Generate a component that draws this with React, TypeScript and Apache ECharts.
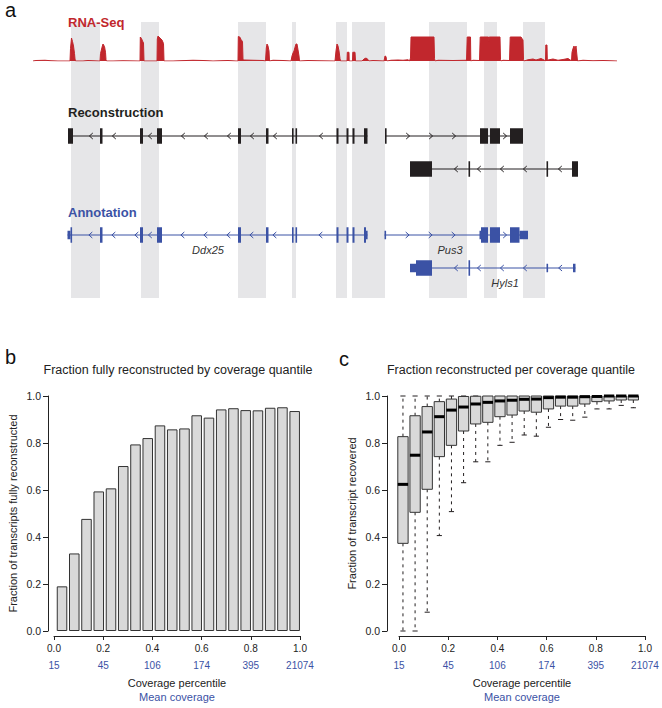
import React, { useEffect, useRef } from 'react';
import * as echarts from 'echarts';

const FONT = '"Liberation Sans", Arial, Helvetica, sans-serif';
const RED = '#c1272d';
const BLUE = '#3b52a5';
const BLACK = '#231f20';
const BAND = '#e6e6e8';
const AXIS = '#222222';

// ---------- Panel a (genomic positions in bp, relative to region start) ----------
const regionStart = 0;
const regionEnd = 58400;

const highlightBands: [number, number][] = [
  [3800, 6700], [10800, 12600], [20500, 23300], [25900, 26300], [30300, 31400],
  [31900, 35200], [39600, 43400], [45100, 46400], [49000, 51200],
];

const rnaSeqCoverage: [number, number][] = [
  [0, 0], [300, 2], [1200, 3], [1800, 1], [2500, 0],
  [3700, 0], [3750, 50], [3850, 92], [3950, 78], [4050, 60], [4150, 30], [4200, 8], [4250, 0],
  [5000, 0], [5500, 2], [6000, 1], [6600, 0],
  [6700, 0], [6750, 30], [6900, 55], [7000, 68], [7150, 58], [7250, 35], [7300, 5], [7350, 0],
  [8000, 0], [9000, 1], [10600, 0],
  [10700, 0], [10730, 96], [10850, 90], [10950, 80], [11050, 72], [11100, 0],
  [12400, 0], [12430, 88], [12500, 100], [12700, 92], [12900, 84], [13050, 70], [13100, 0],
  [14000, 0], [16000, 3], [17000, 2], [18000, 0], [19500, 2], [20300, 0],
  [20500, 0], [20530, 98], [20700, 95], [20800, 86], [20950, 78], [21000, 5], [21100, 4], [22000, 3], [23000, 2], [23250, 0],
  [23300, 0], [23330, 52], [23400, 68], [23500, 60], [23600, 40], [23650, 0],
  [24000, 3], [25000, 2], [25800, 0],
  [25850, 0], [25900, 20], [26000, 32], [26100, 40], [26200, 55], [26300, 68], [26400, 68], [26500, 45], [26600, 20], [26650, 0],
  [27500, 2], [28500, 1], [30200, 0],
  [30250, 0], [30300, 40], [30400, 68], [30500, 60], [30600, 40], [30700, 10], [30750, 0],
  [31400, 0], [31430, 35], [31600, 35], [31620, 0],
  [31950, 0], [31980, 35], [32200, 35], [32250, 0],
  [32900, 0], [33100, 8], [33300, 12], [33500, 6], [33600, 0],
  [34000, 2], [35100, 0],
  [35150, 0], [35200, 20], [35300, 18], [35350, 5], [35400, 0],
  [35800, 3], [36500, 4], [37000, 3], [37500, 5], [37650, 0],
  [37700, 0], [37750, 12], [37800, 96], [40100, 96], [40150, 10], [40200, 0],
  [40500, 3], [42000, 2], [43300, 3], [43350, 0],
  [43400, 0], [43420, 96], [43750, 96], [43780, 0],
  [44000, 3], [44600, 2], [44650, 0],
  [44700, 0], [44720, 96], [45550, 96], [45580, 78], [45620, 96], [46700, 96], [46750, 6], [46800, 0],
  [47000, 3], [47600, 2], [47650, 0],
  [47700, 0], [47720, 96], [48800, 96], [48900, 90], [49000, 84], [49050, 6], [49100, 0],
  [49500, 5], [50000, 8], [50300, 4], [50800, 10], [51100, 4], [51250, 0],
  [51280, 64], [51400, 64], [51430, 5], [51500, 4], [52000, 8], [52500, 3], [53000, 6], [53500, 10], [53800, 2], [53850, 0],
  [53900, 35], [54000, 50], [54100, 60], [54200, 45], [54300, 60], [54400, 20], [54450, 0],
  [55000, 3], [56000, 1], [57000, 2], [58400, 0],
];

type Exon = [number, number, 'cds' | 'utr'];
type Transcript = {
  name: string;
  set: 'reconstruction' | 'annotation';
  row: number;
  strand: '+' | '-';
  exons: Exon[];
  labelPos?: number;
};

const ddx25Core: Exon[] = [
  [6700, 6950, 'cds'], [10700, 11000, 'cds'], [12400, 12900, 'cds'], [20500, 20800, 'cds'],
  [23300, 23550, 'cds'], [25900, 26050, 'cds'], [26250, 26400, 'cds'], [30350, 30550, 'cds'],
  [31350, 31550, 'cds'], [31950, 32150, 'cds'],
];

const transcripts: Transcript[] = [
  { name: 'Ddx25', set: 'reconstruction', row: 1, strand: '-',
    exons: [[3500, 4000, 'cds'], ...ddx25Core, [33100, 33450, 'cds']] },
  { name: 'Pus3', set: 'reconstruction', row: 1, strand: '+',
    exons: [[35200, 35350, 'cds'], [44700, 45500, 'cds'], [45700, 46700, 'cds'], [47700, 49000, 'cds']] },
  { name: 'Hyls1', set: 'reconstruction', row: 2, strand: '-',
    exons: [[37700, 39900, 'cds'], [43550, 43700, 'cds'], [51350, 51500, 'cds'], [53900, 54500, 'cds']] },
  { name: 'Ddx25', set: 'annotation', row: 4, strand: '-', labelPos: 17500,
    exons: [[3450, 3750, 'utr'], [3750, 3900, 'cds'], ...ddx25Core, [33100, 33300, 'cds'], [33300, 33450, 'utr']] },
  { name: 'Pus3', set: 'annotation', row: 4, strand: '+', labelPos: 41700,
    exons: [[35150, 35300, 'utr'], [44650, 44800, 'utr'], [44800, 45500, 'cds'], [45700, 46700, 'cds'],
      [47700, 48650, 'cds'], [48650, 49500, 'utr']] },
  { name: 'Hyls1', set: 'annotation', row: 5, strand: '-', labelPos: 47200,
    exons: [[37700, 38300, 'utr'], [38300, 39900, 'cds'], [43550, 43650, 'cds'], [51350, 51450, 'utr'], [54000, 54250, 'utr']] },
];

// ---------- Panel b ----------
const quantileBins = ['Q1', 'Q2', 'Q3', 'Q4', 'Q5', 'Q6', 'Q7', 'Q8', 'Q9', 'Q10',
  'Q11', 'Q12', 'Q13', 'Q14', 'Q15', 'Q16', 'Q17', 'Q18', 'Q19', 'Q20'];
const fractionFullyReconstructed = [0.19, 0.33, 0.477, 0.594, 0.607, 0.702, 0.794, 0.821, 0.875, 0.858,
  0.862, 0.918, 0.908, 0.943, 0.948, 0.940, 0.939, 0.950, 0.952, 0.936];
const percentileTicks = [0, 0.2, 0.4, 0.6, 0.8, 1.0];
const meanCoverageTicks = ['15', '45', '106', '174', '395', '21074'];

// ---------- Panel c ----------
const whiskerLow = [0.0, 0.0, 0.08, 0.406, 0.508, 0.631, 0.72, 0.72, 0.79, 0.803,
  0.834, 0.829, 0.867, 0.9, 0.897, 0.91, 0.945, 0.945, 0.96, 0.95];
const quartile1 = [0.373, 0.505, 0.603, 0.742, 0.79, 0.851, 0.881, 0.888, 0.912, 0.919,
  0.936, 0.931, 0.945, 0.957, 0.957, 0.966, 0.976, 0.979, 0.983, 0.983];
const medianRecovered = [0.624, 0.748, 0.847, 0.912, 0.94, 0.953, 0.966, 0.973, 0.979, 0.982,
  0.986, 0.987, 0.993, 0.995, 0.995, 0.997, 0.998, 1.0, 1.0, 1.0];
const quartile3 = [0.827, 0.916, 0.955, 0.976, 0.987, 0.998, 0.999, 1.0, 1.0, 1.0,
  1.0, 1.0, 1.0, 1.0, 1.0, 1.0, 1.0, 1.0, 1.0, 1.0];
const whiskerHigh = [1.0, 1.0, 1.0, 1.0, 1.0, 1.0, 1.0, 1.0, 1.0, 1.0,
  1.0, 1.0, 1.0, 1.0, 1.0, 1.0, 1.0, 1.0, 1.0, 1.0];

function textEl(text: string, x: number, y: number, font: string, fill: string, align = 'left') {
  return {
    type: 'text', x, y, z: 100, zlevel: 0, silent: true,
    style: { text, font, fill, textAlign: align, textVerticalAlign: 'middle', align, verticalAlign: 'middle' },
  };
}

function percentAxis(gridIndex: number, offset: number) {
  return {
    gridIndex, type: 'value', min: 0, max: 1, interval: 0.2, offset,
    axisLine: { show: true, onZero: false, lineStyle: { color: AXIS, width: 1 } },
    axisTick: { show: true, length: 4, lineStyle: { color: AXIS, width: 1 } },
    splitLine: { show: false },
    axisLabel: {
      margin: 4,
      formatter: (v: number) => `{p|${v.toFixed(1)}}\n{m|${meanCoverageTicks[percentileTicks.findIndex((t) => Math.abs(t - v) < 1e-6)] ?? ''}}`,
      rich: {
        p: { fontSize: 10, color: AXIS, lineHeight: 17, fontFamily: FONT },
        m: { fontSize: 10, color: BLUE, lineHeight: 17, fontFamily: FONT },
      },
    },
    name: '{t|Coverage percentile}\n{s|Mean coverage}',
    nameLocation: 'middle', nameGap: 40,
    nameTextStyle: {
      rich: {
        t: { fontSize: 11, color: AXIS, lineHeight: 14, fontFamily: FONT },
        s: { fontSize: 11, color: BLUE, lineHeight: 14, fontFamily: FONT },
      },
    },
  };
}

function fractionAxis(gridIndex: number, offset: number, name: string) {
  return {
    gridIndex, type: 'value', min: 0, max: 1, interval: 0.2, offset,
    axisLine: { show: true, onZero: false, lineStyle: { color: AXIS, width: 1 } },
    axisTick: { show: true, length: 5, lineStyle: { color: AXIS, width: 1 } },
    splitLine: { show: false },
    axisLabel: { margin: 7, fontSize: 10.5, color: AXIS, fontFamily: FONT, formatter: (v: number) => v.toFixed(1) },
    name, nameLocation: 'middle', nameGap: 30,
    nameTextStyle: { fontSize: 11, color: AXIS, fontFamily: FONT },
  };
}

export default function App() {
  const ref = useRef<HTMLDivElement>(null);

  useEffect(() => {
    if (!ref.current) return;
    const chart = echarts.init(ref.current, null, { renderer: 'svg' });

    const renderBand = (params: any, api: any) => {
      const a = api.coord([api.value(0), 0])[0];
      const b = api.coord([api.value(1), 0])[0];
      const cs = params.coordSys;
      return { type: 'rect', shape: { x: a, y: cs.y, width: b - a, height: cs.height }, style: { fill: BAND } };
    };

    const renderTranscript = (params: any, api: any) => {
      const t = transcripts[api.value(3)];
      const color = t.set === 'reconstruction' ? BLACK : BLUE;
      const xs = (v: number) => api.coord([v, t.row])[0];
      const yc = api.coord([t.exons[0][0], t.row])[1];
      const ex = t.exons.map((e) => [xs(e[0]), xs(e[1]), e[2]] as [number, number, string]);
      const x0 = ex[0][0];
      const x1 = ex[ex.length - 1][1];
      const children: any[] = [];
      children.push({ type: 'line', shape: { x1: x0, y1: yc, x2: x1, y2: yc }, style: { stroke: color, lineWidth: 1 } });
      const near = (x: number) => ex.some(([a, b]) => x > a - 3.5 && x < b + 3.5);
      const d = t.strand === '-' ? 1 : -1;
      const chev = (x: number) => ({
        type: 'polyline',
        shape: { points: [[x + 1.8 * d, yc - 3], [x - 1.6 * d, yc], [x + 1.8 * d, yc + 3]] },
        style: { stroke: color, lineWidth: 1, fill: null },
      });
      const spacing = 23;
      const chevX: number[] = [];
      for (let x = x0 + spacing; x < x1 - 3; x += spacing) {
        if (!near(x)) chevX.push(x);
      }
      for (let i = 0; i < ex.length - 1; i++) {
        const a = ex[i][1];
        const b = ex[i + 1][0];
        if (b - a >= 10 && !chevX.some((x) => x > a && x < b)) chevX.push((a + b) / 2);
      }
      chevX.forEach((x) => children.push(chev(x)));
      ex.forEach(([a, b, kind]) => {
        const h = kind === 'cds' ? 15.5 : 8.5;
        const w = Math.max(b - a, 1.6);
        children.push({ type: 'rect', shape: { x: a, y: yc - h / 2, width: w, height: h }, style: { fill: color } });
      });
      if (t.labelPos !== undefined) {
        children.push(textEl(t.name, xs(t.labelPos), yc + 15, `italic 11px ${FONT}`, '#333333', 'center'));
      }
      return { type: 'group', children };
    };

    const renderBox = (params: any, api: any) => {
      const i = api.value(0);
      const lo = api.value(1), q1 = api.value(2), md = api.value(3), q3 = api.value(4), hi = api.value(5);
      const band = api.size([1, 0])[0];
      const bw = band * 0.85;
      const cap = bw * 0.5;
      const y = (v: number) => api.coord([i, v])[1];
      const xc = api.coord([i, md])[0];
      const dash = { stroke: BLACK, lineWidth: 1, lineDash: [3, 4] };
      const solid = { stroke: BLACK, lineWidth: 1 };
      const children: any[] = [];
      if (hi > q3) {
        children.push({ type: 'line', shape: { x1: xc, y1: y(q3), x2: xc, y2: y(hi) }, style: dash });
        children.push({ type: 'line', shape: { x1: xc - cap / 2, y1: y(hi), x2: xc + cap / 2, y2: y(hi) }, style: solid });
      }
      if (lo < q1) {
        children.push({ type: 'line', shape: { x1: xc, y1: y(q1), x2: xc, y2: y(lo) }, style: dash });
        children.push({ type: 'line', shape: { x1: xc - cap / 2, y1: y(lo), x2: xc + cap / 2, y2: y(lo) }, style: solid });
      }
      children.push({
        type: 'rect', shape: { x: xc - bw / 2, y: y(q3), width: bw, height: y(q1) - y(q3) },
        style: { fill: '#d9d9d9', stroke: '#333333', lineWidth: 1 },
      });
      children.push({ type: 'line', shape: { x1: xc - bw / 2, y1: y(md), x2: xc + bw / 2, y2: y(md) }, style: { stroke: '#000', lineWidth: 3 } });
      return { type: 'group', children };
    };

    const genomeX = (gridIndex: number) => ({ gridIndex, type: 'value', min: regionStart, max: regionEnd, show: false });

    const option: any = {
      animation: false,
      backgroundColor: '#ffffff',
      textStyle: { fontFamily: FONT },
      grid: [
        { left: 33, width: 584, top: 22, height: 276 },   // 0 bands
        { left: 33, width: 584, top: 36, height: 25 },    // 1 coverage
        { left: 33, width: 584, top: 103, height: 198 },  // 2 gene tracks
        { left: 54, width: 246, top: 396, height: 235 },  // 3 panel b axes
        { left: 55.9, width: 244.9, top: 396, height: 235 }, // 4 panel b bars
        { left: 399, width: 246, top: 396, height: 235 }, // 5 panel c axes
        { left: 396.9, width: 242.5, top: 396, height: 235 }, // 6 panel c boxes
      ],
      xAxis: [
        genomeX(0), genomeX(1), genomeX(2),
        percentAxis(3, 5),
        { gridIndex: 4, type: 'category', data: quantileBins, show: false },
        percentAxis(5, 5),
        { gridIndex: 6, type: 'category', data: quantileBins, show: false },
      ],
      yAxis: [
        { gridIndex: 0, type: 'value', min: 0, max: 1, show: false },
        { gridIndex: 1, type: 'value', min: 0, max: 100, show: false },
        { gridIndex: 2, type: 'value', min: 0, max: 6, inverse: true, show: false },
        fractionAxis(3, 6, 'Fraction of transcripts fully reconstructed'),
        { gridIndex: 4, type: 'value', min: 0, max: 1, show: false },
        fractionAxis(5, 12, 'Fraction of transcript recovered'),
        { gridIndex: 6, type: 'value', min: 0, max: 1, show: false },
      ],
      series: [
        {
          type: 'custom', xAxisIndex: 0, yAxisIndex: 0, z: 1, silent: true,
          renderItem: renderBand, data: highlightBands, encode: { x: [0, 1] },
        },
        {
          type: 'line', xAxisIndex: 1, yAxisIndex: 1, z: 2, silent: true,
          data: rnaSeqCoverage, showSymbol: false, symbol: 'none',
          lineStyle: { color: RED, width: 1 }, areaStyle: { color: RED, opacity: 1 },
        },
        {
          type: 'custom', xAxisIndex: 2, yAxisIndex: 2, z: 3, silent: true,
          renderItem: renderTranscript,
          data: transcripts.map((t, i) => [t.row, t.exons[0][0], t.exons[t.exons.length - 1][1], i]),
          encode: { x: [1, 2], y: 0 },
        },
        {
          type: 'bar', xAxisIndex: 4, yAxisIndex: 4, silent: true,
          data: fractionFullyReconstructed, barWidth: '86%',
          itemStyle: { color: '#d9d9d9', borderColor: '#333333', borderWidth: 1 },
        },
        {
          type: 'custom', xAxisIndex: 6, yAxisIndex: 6, silent: true,
          renderItem: renderBox,
          data: quantileBins.map((_, i) => [i, whiskerLow[i], quartile1[i], medianRecovered[i], quartile3[i], whiskerHigh[i]]),
          encode: { x: 0, y: [1, 2, 3, 4, 5] },
        },
      ],
      graphic: {
        z: 100,
        elements: [
          textEl('a', 5, 10, `20px ${FONT}`, '#111111'),
          textEl('RNA-Seq', 68, 22, `bold 13px ${FONT}`, RED),
          textEl('Reconstruction', 68, 112, `bold 13px ${FONT}`, BLACK),
          textEl('Annotation', 68, 212, `bold 13px ${FONT}`, BLUE),
          textEl('b', 5, 357, `20px ${FONT}`, '#111111'),
          textEl('c', 339, 359, `20px ${FONT}`, '#111111'),
          textEl('Fraction fully reconstructed by coverage quantile', 178, 370, `12.5px ${FONT}`, AXIS, 'center'),
          textEl('Fraction reconstructed per coverage quantile', 511, 370, `12.5px ${FONT}`, AXIS, 'center'),
        ],
      },
    };

    chart.setOption(option);
    return () => chart.dispose();
  }, []);

  return (
    <div
      ref={ref}
      style={{ position: 'absolute', left: 0, top: 0, width: 662, height: 708, background: '#fff' }}
    />
  );
}
